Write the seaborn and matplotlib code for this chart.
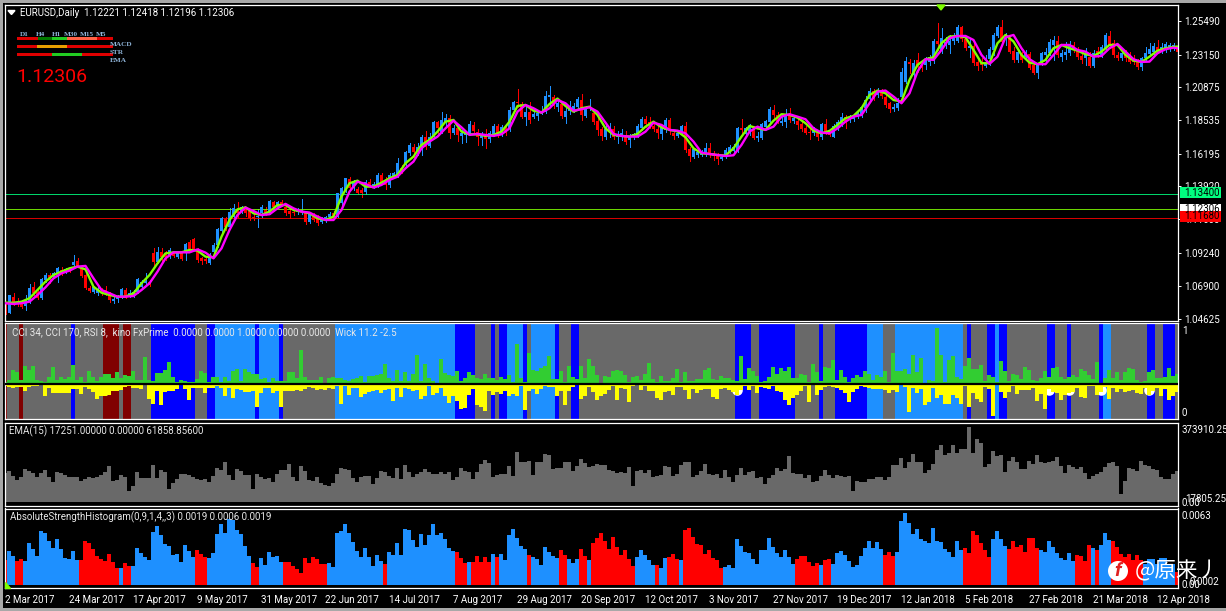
import numpy as np
import pandas as pd
import matplotlib
matplotlib.use("Agg")
import matplotlib.pyplot as plt
from matplotlib.patches import Rectangle, Circle, Polygon
import seaborn as sns

# Prices are in 1/10000 units, one value per daily bar
body_top = [10559,10629,10617,10582,10571,10594,10676,10687,10652,10739,10769,10769,10786,10818,10804,10809,10821,10863,10870,10816,10769,10676,10683,10669,10659,10664,10641,10603,10613,10669,10664,10641,10652,10739,10723,10730,10723,10921,10933,10933,10921,10945,10926,10921,10921,10987,11003,11024,10940,10886,10879,10898,10980,11090,11167,11160,11214,11237,11225,11244,11237,11221,11179,11183,11249,11225,11289,11279,11284,11284,11249,11221,11214,11225,11225,11202,11197,11190,11179,11160,11174,11197,11202,11342,11382,11448,11443,11424,11373,11366,11424,11424,11406,11471,11471,11436,11471,11483,11553,11518,11635,11682,
    11670,11665,11740,11740,11740,11845,11845,11857,11873,11869,11798,11798,11763,11768,11829,11822,11775,11756,11752,11768,11815,11815,11810,11810,11927,11983,11986,11969,11915,11915,11899,11908,11922,12025,12032,12016,11974,11969,11922,11946,11955,12002,11997,11939,11955,11904,11852,11791,11791,11810,11791,11752,11763,11752,11740,11756,11815,11864,11862,11845,11815,11794,11798,11857,11857,11763,11768,11815,11815,11653,11653,11635,11628,11658,11658,11628,11604,11595,11646,11667,11667,11798,11798,11798,11815,11791,11745,11829,11850,11934,11927,11892,11852,11892,11899,11869,11852,11829,11798,11775,11782,11763,
    11829,11829,11775,11815,11845,11880,11876,11876,11885,11904,11951,11997,12063,12063,12063,12056,12021,11974,11951,11974,12196,12273,12266,12259,12278,12243,12283,12301,12414,12414,12435,12407,12414,12442,12512,12507,12423,12376,12376,12266,12255,12259,12353,12453,12507,12512,12453,12437,12343,12336,12325,12325,12320,12243,12243,12325,12336,12407,12418,12414,12325,12336,12376,12383,12353,12306,12325,12301,12325,12343,12367,12453,12446,12395,12313,12325,12313,12313,12290,12266,12290,12329,12353,12376,12372,12367,12388,12383,12383,12372]
body_bot = [10500,10505,10571,10566,10542,10552,10582,10645,10606,10606,10734,10734,10758,10781,10781,10793,10800,10840,10835,10762,10676,10657,10652,10641,10641,10641,10594,10589,10599,10613,10617,10622,10629,10652,10687,10711,10699,10863,10863,10898,10893,10903,10903,10893,10879,10933,10949,10949,10875,10870,10868,10856,10928,10980,11080,11104,11108,11179,11202,11214,11202,11167,11167,11174,11202,11202,11207,11244,11249,11260,11202,11197,11202,11209,11209,11139,11139,11155,11137,11144,11155,11174,11167,11179,11272,11366,11378,11382,11347,11342,11354,11401,11389,11401,11417,11401,11401,11459,11471,11494,11541,11623,
    11635,11642,11670,11670,11674,11740,11798,11775,11845,11763,11768,11752,11745,11754,11768,11782,11735,11733,11721,11721,11756,11752,11759,11768,11798,11927,11974,11880,11876,11857,11876,11887,11904,11915,12016,11955,11950,11887,11876,11922,11927,11946,11892,11887,11939,11845,11787,11745,11735,11775,11735,11740,11745,11705,11717,11735,11745,11798,11829,11815,11794,11763,11759,11787,11791,11747,11745,11768,11646,11604,11600,11611,11611,11618,11618,11604,11581,11581,11595,11635,11642,11646,11787,11759,11782,11731,11731,11731,11810,11841,11892,11845,11834,11841,11857,11852,11822,11791,11763,11768,11763,11735,
    11735,11768,11752,11740,11798,11829,11852,11857,11862,11880,11885,11939,12002,12007,12032,12025,11962,11932,11932,11939,12021,12126,12250,12173,12231,12220,12243,12266,12278,12390,12348,12383,12383,12414,12414,12423,12360,12360,12255,12238,12243,12236,12283,12348,12446,12407,12437,12336,12278,12278,12278,12297,12224,12184,12189,12250,12313,12325,12383,12313,12297,12313,12325,12348,12301,12278,12290,12236,12236,12313,12313,12360,12383,12313,12290,12290,12290,12266,12266,12231,12231,12290,12318,12336,12343,12336,12348,12353,12360,12336]
wick_high = [10582,10629,10641,10606,10582,10629,10706,10723,10664,10746,10781,10786,10793,10828,10828,10816,10828,10910,10886,10835,10781,10692,10692,10687,10676,10692,10652,10617,10629,10676,10676,10664,10664,10746,10734,10781,10734,10956,10963,10956,10940,10956,10933,10933,10933,10996,11015,11029,10956,10898,10898,10921,10992,11097,11179,11174,11237,11268,11284,11254,11249,11230,11202,11230,11260,11249,11296,11289,11291,11296,11268,11237,11230,11237,11303,11221,11207,11202,11190,11179,11183,11214,11221,11347,11389,11452,11455,11436,11385,11378,11436,11441,11424,11487,11487,11459,11487,11494,11588,11541,11642,11693,
    11689,11693,11749,11780,11763,11852,11852,11913,11899,11892,11822,11822,11787,11782,11850,11841,11791,11775,11791,11782,11829,11829,11820,11822,11946,11993,12074,11986,11946,11986,11915,11927,11955,12063,12096,12032,11997,11986,11939,11990,11974,12016,12039,11955,12004,11927,11876,11810,11822,11834,11815,11782,11796,11780,11759,11763,11829,11880,11885,11876,11845,11834,11822,11869,11869,11782,11787,11824,11845,11670,11663,11646,11646,11693,11693,11639,11623,11611,11658,11682,11689,11810,11864,11810,11829,11815,11775,11838,11857,11946,11962,11915,11892,11934,11939,11892,11880,11845,11815,11798,11810,11775,
    11838,11862,11787,11829,11857,11908,11892,11892,11899,11927,11962,12025,12079,12072,12079,12072,12056,11986,11969,12009,12220,12301,12283,12278,12325,12271,12301,12313,12423,12540,12500,12442,12453,12465,12524,12517,12442,12430,12395,12301,12290,12313,12372,12465,12524,12559,12465,12453,12372,12353,12336,12348,12336,12266,12255,12336,12365,12423,12446,12446,12348,12407,12414,12407,12372,12325,12360,12336,12348,12372,12383,12465,12484,12418,12336,12348,12348,12336,12313,12283,12301,12372,12395,12395,12418,12395,12407,12400,12395,12407]
wick_low = [10496,10500,10559,10552,10535,10524,10575,10629,10599,10601,10723,10716,10746,10723,10769,10781,10793,10816,10828,10758,10669,10650,10641,10629,10629,10629,10582,10575,10582,10606,10610,10613,10617,10641,10676,10699,10692,10816,10851,10851,10875,10886,10893,10886,10875,10875,10940,10945,10863,10847,10851,10847,10917,10968,11073,11085,11097,11167,11179,11202,11183,11155,11155,11108,11179,11190,11197,11230,11237,11254,11190,11167,11190,11197,11197,11127,11132,11148,11120,11132,11144,11165,11160,11174,11260,11354,11366,11366,11338,11319,11338,11389,11378,11389,11408,11370,11389,11448,11459,11483,11529,11611,
    11600,11611,11611,11651,11670,11728,11763,11763,11815,11728,11759,11712,11693,11705,11752,11768,11682,11682,11663,11705,11745,11740,11745,11752,11782,11915,11946,11869,11822,11838,11869,11857,11899,11904,11950,11939,11922,11869,11838,11899,11915,11932,11857,11876,11927,11829,11752,11717,11721,11740,11721,11693,11717,11689,11670,11721,11735,11787,11810,11798,11782,11728,11721,11775,11759,11724,11735,11759,11635,11569,11588,11600,11604,11604,11600,11576,11548,11576,11588,11623,11628,11635,11752,11740,11752,11721,11712,11721,11798,11834,11869,11834,11822,11806,11845,11834,11791,11782,11759,11724,11752,11717,
    11721,11759,11745,11735,11787,11815,11798,11845,11852,11869,11876,11915,11986,11997,12016,12009,11951,11915,11922,11927,12009,12114,12184,12156,12196,12203,12213,12243,12255,12348,12325,12360,12329,12390,12407,12414,12348,12301,12243,12208,12208,12231,12243,12313,12437,12395,12383,12325,12266,12266,12266,12278,12213,12180,12154,12243,12255,12313,12278,12301,12273,12283,12313,12336,12283,12255,12243,12231,12231,12297,12301,12348,12360,12297,12278,12278,12273,12255,12250,12213,12208,12278,12306,12313,12329,12325,12336,12343,12348,12325]
candle_side = ("rbrrrbbrrb" "brbbrbrbrr" "rrbbrrrbbb" "rbbbbbrrbr" "rbrbrbrrrr" "rbbbbrbbrb" "rrrbbrbrbr" "rrrbbrbrrb" "bbrbbbrbrr" "brbbrrbbbr" "bb"
    "rbbrbbrbbr" "brbbbrrbrb" "brbrbbrrbr" "bbbbbrbrbb" "bbrbbrrrbb" "rbbrbbbbrr" "rrbbrrbbrr" "bbbbrrrbbb" "bbrbbrbbbb" "rrbbrbrrrr" "br"
    "brrbbbrbbb" "bbbrbrrrbb" "bbrbrrbbbr" "bbbbbrrbrr" "rbbbbrbrrb" "rbrrbbbbbr" "bbbrrrbrbr" "bbrrrbrrrr" "bbbbrbbbbr")

# Moving averages, read every second bar
line_bars = list(range(0, 293, 2)) + [293]
ma_slow = [10571,10566,10571,10582,10629,10683,10746,10781,10800,10828,10833,10746,10664,10641,10617,10617,10622,10664,10711,10793,10886,10928,10928,10928,10949,10926,10886,10956,11085,11190,11242,11218,11190,11195,11237,11268,11237,11214,11207,11179,11155,11155,11225,11354,11424,11408,11382,11401,11436,11459,11518,
    11565,11658,11705,11740,11798,11852,11805,11752,11759,11752,11745,11756,11798,11915,11962,11939,11908,11939,11997,11974,11922,11932,11946,11915,11838,11759,11745,11740,11740,11775,11838,11822,11787,11782,11763,11705,11628,11618,11611,11604,11609,11682,11775,11810,11787,11810,11880,11897,11880,11862,11798,
    11768,11763,11798,11845,11880,11892,11974,12056,12063,12021,11974,12044,12196,12283,12278,12348,12430,12446,12446,12418,12313,12250,12301,12437,12453,12360,12283,12248,12248,12313,12383,12383,12348,12336,12301,12306,12360,12390,12336,12283,12264,12266,12325,12353,12364,12360]
ma_fast = [10575,10575,10582,10606,10664,10723,10769,10793,10816,10828,10809,10687,10645,10629,10617,10617,10641,10711,10769,10851,10921,10928,10928,10945,10940,10898,10893,11038,11155,11230,11244,11202,11190,11214,11260,11260,11225,11214,11202,11167,11155,11179,11319,11413,11431,11389,11389,11417,11448,11471,11553,
    11600,11682,11717,11775,11845,11857,11775,11756,11756,11745,11752,11775,11845,11955,11962,11922,11908,11969,12007,11955,11915,11939,11950,11892,11798,11752,11745,11740,11759,11810,11845,11805,11787,11777,11735,11658,11623,11618,11611,11607,11658,11740,11815,11798,11787,11852,11897,11892,11873,11834,11782,
    11763,11780,11822,11869,11885,11939,12032,12063,12044,11997,11986,12138,12243,12283,12297,12395,12442,12446,12437,12348,12255,12255,12395,12453,12407,12313,12259,12248,12278,12360,12383,12360,12343,12318,12306,12336,12383,12383,12313,12273,12264,12301,12343,12360,12369,12372]

level_prices = [1.13400, 1.12306, 1.11680]
level_colors = ["#00FF7F", "#7FFF00", "#FF0000"]
price_ticks = [1.25490, 1.23150, 1.20875, 1.18535, 1.16195, 1.13920, 1.11600, 1.09240, 1.06900, 1.04625]

# Regime colour of each bar in the CCI panel: (colour key, number of bars)
regime_runs = [("d",1),("g",3),("d",1),("g",12),("b",1),("g",7),("d",4),("g",1),("d",2),("g",5),("b",11),("g",3),("b",2),("l",10),("b",1),("l",5),("b",1),("g",13),("l",30),("b",5),("g",4),("b",1),("g",1),("b",2),("l",4),("b",1),("g",1),("l",6),("b",1),("g",3),("b",2),("g",39),("b",4),("g",2),("b",9),("g",6),("b",1),("g",3),("b",8),("l",4),("g",3),("l",17),("g",1),("b",1),("g",4),("b",2),("l",1),("b",2),("g",10),("b",2),("g",3),("b",1),("g",7),("b",1),("l",2),("g",9),("b",2),("g",2),("b",3),("g",1)]

# Wick histogram, in the panel's own reading steps
wick_up = [7,11,40,35,13,52,40,52,13,10,7,21,49,13,22,15,21,55,13,22,7,37,21,9,21,31,31,17,35,17,28,25,37,13,13,79,13,9,33,33,41,65,21,7,13,9,5,7,15,37,33,5,22,22,7,21,10,37,43,10,43,34,31,31,15,17,5,19,10,10,10,34,34,19,100,21,13,13,13,22,1,17,21,17,17,13,10,16,19,25,7,25,25,28,31,58,17,10,40,10,35,8,
    31,85,10,58,19,10,4,73,33,28,25,37,10,19,34,28,19,16,31,19,19,13,22,16,28,7,118,19,7,91,40,37,46,52,82,16,16,37,7,52,22,16,52,19,73,52,28,4,25,22,37,40,37,28,7,22,25,13,31,61,16,7,25,10,10,19,43,7,34,10,10,16,16,40,46,16,13,25,19,19,13,10,82,16,46,37,25,7,10,22,49,31,46,37,49,19,19,31,28,7,58,34,
    10,49,46,70,13,40,22,7,19,28,22,37,31,13,28,22,37,7,91,37,37,43,31,85,34,76,4,13,10,166,85,7,70,82,22,16,52,76,43,43,55,10,28,22,7,67,37,10,31,28,16,49,40,13,10,19,37,22,46,49,22,16,22,28,22,43,37,28,16,64,4,19,40,19,34,13,34,46,43,13,7,10,34,40,19,19,22,46,25,31]
wick_down = [5,8,11,8,8,20,8,5,5,3,35,11,26,26,26,26,26,14,14,29,8,14,23,44,35,35,32,20,20,17,8,5,11,11,14,3,44,59,20,62,23,20,20,14,3,14,47,11,11,11,26,11,11,5,11,35,11,41,14,17,23,23,20,68,26,11,11,26,20,68,20,20,20,17,20,14,8,11,17,14,17,11,14,5,59,5,32,11,11,38,29,23,20,17,26,17,14,50,11,38,11,14,
    20,17,44,35,5,32,26,11,35,56,35,50,74,71,32,14,62,68,80,20,32,23,29,20,35,29,35,5,77,20,14,29,14,5,8,8,35,20,62,20,8,3,44,35,8,23,47,35,29,17,5,47,11,14,53,5,3,17,5,20,20,41,47,23,20,32,8,8,17,44,14,26,17,14,14,38,44,14,11,17,23,32,17,5,17,5,26,8,11,14,5,20,23,47,62,41,32,20,5,53,3,32,
    17,8,5,8,11,17,26,53,23,14,5,8,11,14,14,14,17,26,17,23,3,8,83,11,26,14,62,53,11,41,32,59,59,32,41,59,5,68,26,44,53,8,14,95,3,23,41,23,5,29,17,17,17,11,50,29,74,14,23,26,47,32,26,23,11,38,41,5,7,32,23,8,44,11,23,14,23,20,17,26,29,11,32,20,11,35,14,47,35,23]
kino_bars = [25, 183, 261, 266, 274, 286]
kino_levels = [-19, -19, -19, -19, -17, -19]

# Volume panel, in reading steps of 1669 ticks
volume_steps = [88,93,78,67,75,99,93,88,76,88,96,75,61,90,88,81,76,75,74,63,70,74,72,74,81,89,108,63,67,81,74,33,48,89,73,71,72,111,71,96,91,39,56,69,83,83,82,74,70,66,68,60,78,101,96,120,81,66,99,93,81,81,39,84,74,69,73,61,83,96,96,114,74,64,108,94,66,64,74,56,52,48,56,84,102,98,96,72,61,74,79,79,54,72,93,89,79,73,102,68,112,91,
    76,84,89,99,91,83,84,90,84,90,66,76,102,94,91,69,90,113,126,118,75,81,84,84,108,79,150,119,121,123,81,120,120,144,142,99,101,102,119,120,94,108,129,117,106,109,114,111,110,96,93,88,91,86,105,48,94,96,88,96,76,79,81,108,106,79,83,111,120,120,75,81,93,114,84,80,84,71,96,74,60,81,102,81,90,93,71,75,54,71,81,102,94,99,138,87,85,83,71,81,60,63,
    78,96,81,73,81,78,75,78,34,63,60,60,69,69,75,75,66,75,111,111,132,102,120,144,120,120,87,96,114,156,171,141,147,171,146,159,159,224,147,189,178,105,114,153,138,141,90,123,135,120,99,99,123,114,141,120,117,120,123,135,108,87,111,105,99,105,87,69,78,84,90,105,117,120,108,24,63,102,99,93,123,111,108,99,96,75,69,69,84,93]
VOL_STEP = 1669.0

# Absolute strength histogram, in reading steps of 0.0063 / 227
ash_steps = [75,102,87,72,78,72,126,108,87,162,156,132,111,138,108,81,78,102,75,75,132,126,108,87,78,72,93,69,51,51,66,57,57,111,96,84,75,159,177,150,123,117,90,93,69,120,102,84,105,93,84,81,96,153,183,156,198,195,165,153,117,87,66,54,81,60,99,84,87,69,69,69,57,48,36,81,66,84,78,63,63,66,54,156,162,183,156,129,102,84,111,84,57,90,72,63,99,90,126,90,168,165,
    135,114,153,120,150,183,150,156,138,111,102,99,81,66,69,69,87,69,84,69,93,84,93,75,150,168,141,117,108,90,84,78,60,114,99,87,81,105,90,78,66,78,108,87,75,126,141,156,132,108,144,114,90,105,78,57,84,105,90,75,60,60,51,81,84,93,78,75,165,171,144,123,120,93,105,81,75,51,54,60,51,138,117,99,96,78,63,105,105,141,114,96,84,105,84,63,78,87,87,69,57,66,
    60,75,78,63,96,102,90,72,54,60,87,111,132,111,129,108,90,99,87,99,192,216,186,153,168,138,132,126,171,132,129,108,99,84,132,105,111,96,162,150,126,105,84,138,162,138,117,108,132,114,120,99,141,141,111,105,99,132,114,96,81,75,96,72,90,87,72,120,111,105,120,156,135,132,114,93,84,93,75,90,75,63,78,78,63,81,81,63,63,39]
ash_runs = [("r",1),("b",2),("r",2),("b",14),("r",10),("b",1),("r",2),("b",16),("r",3),("b",11),("r",2),("b",6),("r",11),("b",14),("r",1),("b",17),("r",3),("b",1),("r",5),("b",1),("r",1),("b",7),("r",1),("b",7),("r",2),("b",3),("r",2),("b",1),("r",11),("b",5),("r",1),("b",2),("r",3),("b",1),("r",10),("b",18),("r",6),("b",1),("r",2),("b",13),("r",3),("b",17),("r",7),("b",4),("r",8),("b",9),("r",4),("b",1),("r",1),("b",3),("r",8),("b",8),("r",1)]
ASH_STEP = 0.0063 / 227

date_labels = ["2 Mar 2017","24 Mar 2017","17 Apr 2017","9 May 2017","31 May 2017","22 Jun 2017","14 Jul 2017","7 Aug 2017","29 Aug 2017","20 Sep 2017","12 Oct 2017","3 Nov 2017","27 Nov 2017","19 Dec 2017","12 Jan 2018","5 Feb 2018","27 Feb 2018","21 Mar 2018","12 Apr 2018"]

# Multi-timeframe strip in the top left corner
mtf_labels = ["D1", "H4", "H1", "M30", "M15", "M5"]
mtf_row_names = ["MACD", "STR", "EMA"]
mtf_rows = [
    [("#E00000", 21), ("#007800", 14), ("#22CC22", 15), ("#FF6347", 30), ("#E00000", 15)],
    [("#E00000", 20), ("#E8A000", 30), ("#E00000", 45)],
    [("#E00000", 35), ("#22CC22", 30), ("#E00000", 30)],
]

W, H = 1226, 611
LEFT, RIGHT = 5, 1178
BLUE, RED = "#1E90FF", "#FF0000"
UI_FONT = 7.0

sns.set_style("dark", {"axes.facecolor": "black", "figure.facecolor": "black", "axes.edgecolor": "white",
                       "text.color": "white", "xtick.color": "white", "ytick.color": "white"})
plt.rcParams["font.family"] = ["Roboto", "DejaVu Sans"]

bars = np.arange(len(body_top))
x_max = (RIGHT - LEFT) / 4


def add_panel(top, bottom):
    ax = fig.add_axes([LEFT / W, 1 - bottom / H, (RIGHT - LEFT) / W, (bottom - top) / H])
    for spine in ax.spines.values():
        spine.set_color("white")
        spine.set_linewidth(0.9)
    return ax


def finish_panel(ax):
    ax.set_xlim(0, x_max)
    ax.set_xlabel("")
    ax.set_ylabel("")
    ax.set_xticks([])
    ax.set_yticks([])
    ax.grid(False)


def hist(ax, values, **kw):
    sns.barplot(x=bars, y=values, native_scale=True, width=1, saturation=1, linewidth=0,
                antialiased=False, errorbar=None, ax=ax, **kw)


fig = plt.figure(figsize=(W / 100, H / 100), dpi=100, facecolor="black")

# Price panel
ax_price = add_panel(4.5, 321)
body_top_p = np.array(body_top) / 10000
body_bot_p = np.array(body_bot) / 10000
candle_colors = [BLUE if s == "b" else RED for s in candle_side]
ax_price.vlines(bars + 0.125, np.array(wick_low) / 10000, np.array(wick_high) / 10000,
                colors=candle_colors, linewidth=0.6, antialiased=False, zorder=1)
ax_price.bar(bars + 0.125, body_top_p - body_bot_p, bottom=body_bot_p, width=0.75, color=candle_colors,
             linewidth=0, antialiased=False, zorder=2)
for price, color in zip(level_prices, level_colors):
    ax_price.axhline(price, color=color, linewidth=0.6, zorder=1)
sns.lineplot(x=np.array(line_bars) + 0.125, y=np.array(ma_fast) / 10000, color="#7FFF00", linewidth=1.7,
             errorbar=None, ax=ax_price, zorder=3)
sns.lineplot(x=np.array(line_bars) + 0.125, y=np.array(ma_slow) / 10000, color="#FF00FF", linewidth=1.7,
             errorbar=None, ax=ax_price, zorder=4)
finish_panel(ax_price)
ax_price.set_ylim(1.04465, 1.26668)
ax_price.yaxis.tick_right()
ax_price.set_yticks(price_ticks)
ax_price.set_yticklabels([f"{p:.5f}" for p in price_ticks])
ax_price.tick_params(axis="y", length=2.2, width=0.7, pad=2, labelsize=UI_FONT, colors="white")

# CCI / kino panel
ax_cci = add_panel(323, 419.3)
regime_colors = {"d": "#800000", "g": "#696969", "b": "#0000FF", "l": BLUE}
regimes = [regime_colors[key] for key, n in regime_runs for _ in range(n)]
ax_cci.bar(bars, 181 + 105, bottom=-105, width=1, color=regimes, linewidth=0, antialiased=False, zorder=1)
sns.scatterplot(x=kino_bars, y=kino_levels, color="white", s=58, linewidth=0, ax=ax_cci, zorder=1.5)
hist(ax_cci, wick_up, color="#32CD32", zorder=2)
hist(ax_cci, -np.array(wick_down), color="#FFFF00", zorder=2)
ax_cci.axhline(0, color="black", linewidth=1.6, zorder=3)
finish_panel(ax_cci)
ax_cci.set_ylim(-105, 181)

# Volume panel
ax_vol = add_panel(422.5, 506)
hist(ax_vol, np.array(volume_steps) * VOL_STEP, color="#696969")
finish_panel(ax_vol)
ax_vol.set_ylim(-12 * VOL_STEP, 239 * VOL_STEP)

# Absolute strength histogram
ax_ash = add_panel(508.5, 588.3)
ash_sides = [key for key, n in ash_runs for _ in range(n)]
hist(ax_ash, np.array(ash_steps) * ASH_STEP, hue=ash_sides, palette={"b": BLUE, "r": RED}, dodge=False, legend=False)
finish_panel(ax_ash)
ax_ash.set_ylim(-10 * ASH_STEP, 230 * ASH_STEP)
ax_ash.set_xticks(np.arange(len(date_labels)) * 16)
ax_ash.set_xticklabels(date_labels, ha="left")
ax_ash.tick_params(axis="x", length=2.4, width=0.7, pad=2.5, labelsize=UI_FONT, colors="white")

# Overlay in picture pixels for the terminal's labels and chrome
over = fig.add_axes([0, 0, 1, 1], zorder=10)
over.set_xlim(0, W)
over.set_ylim(H, 0)
over.axis("off")
over.patch.set_alpha(0)

for rect in [(0, 0, W, 2.5), (0, 0, 2.5, H), (0, 608, W, 3)]:
    over.add_patch(Rectangle(rect[:2], rect[2], rect[3], color="#A8A8A8", linewidth=0))

over.add_patch(Polygon([(8, 10.5), (15, 10.5), (11.5, 14.5)], color="white"))
over.text(20, 12.5, "EURUSD,Daily  1.12221 1.12418 1.12196 1.12306", color="white", fontsize=UI_FONT, va="center")
over.text(16, 77.5, "1.12306", color="#FF0000", fontsize=14, va="center")

# Timeframe strip
small = {"family": "Liberation Serif", "fontsize": 5.2, "color": "#8FB4D8", "va": "center", "weight": "bold"}
for label, x in zip(mtf_labels, [20, 36, 52, 64, 80, 96]):
    over.text(x, 34.5, label, **small)
for row, y, name in zip(mtf_rows, [37.8, 45.8, 53.8], mtf_row_names):
    x = 17
    for color, width in row:
        over.plot([x, x + width], [y, y], color=color, linewidth=1.0, solid_capstyle="butt", antialiased=False)
        x += width
for name, y in zip(mtf_row_names, [44.5, 52.5, 60.5]):
    over.text(110, y, name, **small)

over.add_patch(Polygon([(937, 5), (945, 5), (941, 10)], color="#7FFF00"))
over.add_patch(Polygon([(5, 582), (5, 588), (10, 588)], color="#7FFF00"))

# Panel captions
over.text(12, 332.7, "CCI 34, CCI 170, RSI 8,  kino FxPrime  0.0000 0.0000 1.0000 0.0000 0.0000  Wick 11.2 -2.5",
          color="#E8E8E8", fontsize=UI_FONT, va="center")
over.text(9, 431.7, "EMA(15) 17251.00000 0.00000 61858.85600", color="#E8E8E8", fontsize=UI_FONT, va="center")
over.text(10, 517.3, "AbsoluteStrengthHistogram(0,9,1,4,,3) 0.0019 0.0006 0.0019", color="#E8E8E8", fontsize=UI_FONT, va="center")

# Right hand scale labels of the lower panels
for label, x, y in [("1", 1182, 330.5), ("0", 1182, 413.5), ("373910.25", 1182, 429.7), ("17805.25", 1185, 499.5),
                    ("0.00", 1182, 503), ("0.0063", 1182, 515.7), ("0.0002", 1189, 581.7), ("0.00", 1182, 585)]:
    over.text(x, y, label, color="white", fontsize=UI_FONT, va="center")

# Price tags on the axis
for text, top, bottom, color in [("1.12306", 204, 214, "white"), ("1.13400", 187.3, 198, "#00FF7F"), ("1.11680", 210.7, 221.7, "#FF0000")]:
    over.add_patch(Rectangle((1180, top), 41, bottom - top, color=color, linewidth=0))
    over.text(1184, (top + bottom) / 2, text, color="black", fontsize=UI_FONT, va="center")

# Watermark
over.add_patch(Circle((1118, 571), 10, color="white", linewidth=0))
over.text(1118, 571, "f", color="#E02020", fontsize=14, fontstyle="italic", fontweight="bold", ha="center", va="center")
over.text(1135, 571, "@原来丿", color="white", fontsize=15.5, va="center", family=["Noto Sans CJK SC", "DejaVu Sans"])

fig.savefig("out.png", dpi=100, facecolor="black")
